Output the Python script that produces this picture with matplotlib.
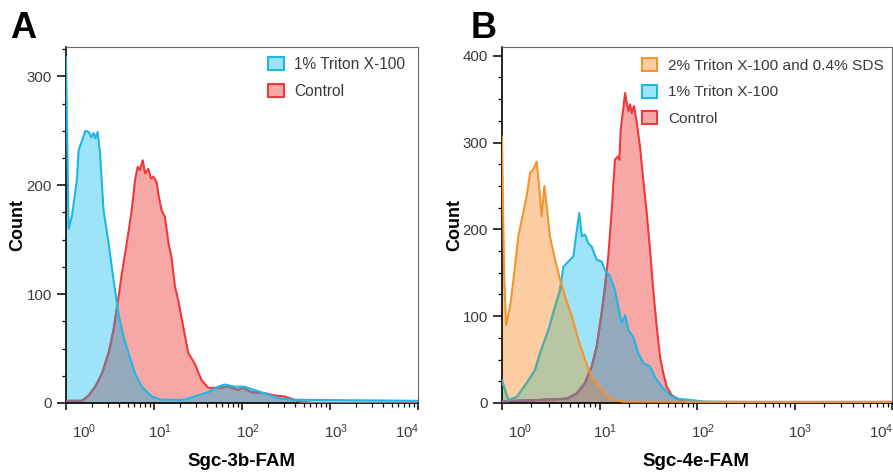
import numpy as np
import matplotlib
matplotlib.use('Agg')
import matplotlib.pyplot as plt
from matplotlib.patches import Patch
from matplotlib.ticker import LogLocator, NullFormatter, MultipleLocator, FixedLocator
import matplotlib.transforms as mtrans

plt.rcParams['font.family'] = ['Liberation Sans', 'DejaVu Sans']
plt.rcParams['mathtext.fontset'] = 'custom'
plt.rcParams['mathtext.rm'] = 'Liberation Sans'
plt.rcParams['mathtext.it'] = 'Liberation Sans:italic'

# ---------------- Panel A data (Sgc-3b-FAM) ----------------
a_triton_x = [1.00, 1.07, 1.17, 1.33, 1.39, 1.52, 1.66, 1.81, 1.94, 2.06, 2.15, 2.29,
              2.44, 2.67, 3.05, 3.47, 3.95, 4.50, 5.13, 6.10, 7.26, 9.42, 12.2, 22.3,
              28.9, 41.3, 53.6, 63.2, 82.0, 107, 138, 179, 256, 362, 10000]
a_triton_y = [318, 160, 172, 205, 232, 241, 250, 249, 244, 248, 243, 249,
              229, 177, 147, 113, 82, 61, 46, 27, 15, 6, 3, 3,
              6, 10, 15, 17, 15, 15, 12, 9, 4.5, 3, 2]
a_control_x = [1.00, 1.52, 1.81, 2.15, 2.56, 3.05, 3.47, 3.95, 4.31, 4.91, 5.58, 6.10,
               6.53, 6.93, 7.45, 7.91, 8.63, 9.25, 9.84, 10.7, 11.2, 12.2, 13.3, 14.6,
               15.8, 17.3, 18.9, 21.5, 24.5, 29.1, 34.7, 41.3, 53.6, 69.7, 90.4, 103,
               128, 181, 234, 305, 395, 471, 611, 10000]
a_control_y = [2, 2, 7, 15, 27, 46, 67, 97, 119, 147, 177, 205,
               217, 214, 223, 211, 215, 206, 208, 203, 192, 177, 171, 147,
               134, 107, 94, 70, 46, 36, 21, 14, 14, 15, 12, 14,
               10, 9, 7, 6, 3, 1, 0, 0]

# ---------------- Panel B data (Sgc-4e-FAM) ----------------
b_sds_x = [1.00, 1.05, 1.10, 1.21, 1.31, 1.47, 1.65, 1.79, 1.94, 2.09, 2.27, 2.42,
           2.55, 2.72, 2.88, 3.10, 3.50, 3.94, 4.43, 5.19, 6.07, 7.10, 8.32, 10.1,
           11.9, 13.9, 17.5, 10000]
b_sds_y = [307, 150, 90, 111, 142, 192, 219, 238, 265, 269, 278, 246,
           215, 250, 226, 192, 165, 142, 123, 100, 73, 50, 30, 19,
           9, 3.5, 1.5, 1.5]
b_triton_x = [1.00, 1.16, 1.42, 1.79, 2.18, 2.45, 2.99, 3.50, 3.94, 4.26, 4.80, 5.40,
              5.74, 6.21, 6.58, 7.10, 7.67, 8.32, 9.35, 10.5, 11.4, 12.8, 14.4, 15.6,
              16.9, 18.3, 19.8, 22.2, 25.0, 28.2, 33.0, 37.1, 43.4, 52.8, 61.9, 84.7,
              126, 443, 10000]
b_triton_y = [26, 3.5, 7, 23, 38, 57, 84, 111, 130, 157, 163, 169,
              192, 219, 192, 194, 184, 180, 165, 163, 153, 146, 130, 111,
              92, 101, 84, 76, 57, 46, 42, 30, 19, 9, 5, 3.5,
              1.5, 1, 0.5]
b_control_x = [1.00, 2.45, 4.61, 5.85, 7.10, 8.32, 9.35, 10.5, 11.4, 12.3, 13.3, 14.4,
               15.4, 16.0, 16.5, 17.5, 18.3, 19.0, 19.8, 20.6, 21.4, 22.6, 24.1, 26.0,
               28.1, 30.5, 33.0, 35.6, 38.6, 41.8, 45.2, 48.9, 55.0, 67.0, 84.7, 10000]
b_control_y = [2, 3.5, 5, 11, 23, 42, 65, 103, 134, 169, 219, 280,
               284, 280, 315, 338, 357, 346, 336, 344, 334, 342, 323, 296,
               257, 219, 176, 130, 88, 53, 34, 19, 9, 3.5, 1, 1]

x_tick_vals = [1, 10, 100, 1000, 10000]
x_tick_labels = [r'$\mathregular{10^{0}}$', r'$\mathregular{10^{1}}$', r'$\mathregular{10^{2}}$',
                 r'$\mathregular{10^{3}}$', r'$\mathregular{10^{4}}$']
a_yticks = [0, 100, 200, 300]
b_yticks = [0, 100, 200, 300, 400]

# colours
BLUE_FILL, BLUE_LINE = '#9ee4f8', '#1fb6e6'
RED_FILL, RED_LINE = '#f8a7a7', '#ec3a3c'
ORANGE_FILL, ORANGE_LINE = '#fccda2', '#f2952e'
BLUE_RED = '#95a9bc'
ORANGE_BLUE = '#b8c5a2'
TRIPLE = '#ab9b8e'
RED_MUTED = '#8c7088'
BLUE_MUTED = '#5cae98'
TXT = '#3a3a3a'

W, H = 893, 476
fig = plt.figure(figsize=(W / 100, H / 100), dpi=100)


def px_axes(l, r, t, b):
    return fig.add_axes([l / W, 1 - b / H, (r - l) / W, (b - t) / H])


def style_axes(ax, ymax, yticks):
    ax.set_xscale('log')
    ax.set_xlim(1, 10000)
    ax.set_ylim(0, ymax)
    ax.xaxis.set_major_locator(FixedLocator(x_tick_vals))
    ax.xaxis.set_minor_locator(LogLocator(base=10, subs=np.arange(2, 10)))
    ax.xaxis.set_major_formatter(NullFormatter())
    ax.xaxis.set_minor_formatter(NullFormatter())
    ax.yaxis.set_major_locator(FixedLocator(yticks))
    ax.yaxis.set_minor_locator(MultipleLocator(25))
    ax.tick_params(axis='y', which='major', direction='out', length=6.5, width=1.1,
                   labelsize=10.8, labelcolor=TXT, pad=3.5)
    ax.tick_params(axis='x', which='major', direction='out', length=5, width=1.1)
    ax.tick_params(which='minor', direction='out', length=3, width=0.9)
    for s in ('left', 'bottom'):
        ax.spines[s].set_color('black')
        ax.spines[s].set_linewidth(1.2)
    for s in ('top', 'right'):
        ax.spines[s].set_color('#666666')
        ax.spines[s].set_linewidth(0.8)
    offsets = [18, 6, 6, 6, -11]
    for v, lab, dx in zip(x_tick_vals, x_tick_labels, offsets):
        tr = mtrans.blended_transform_factory(ax.transData, ax.transAxes) + \
            mtrans.ScaledTranslation(dx / 100, -19 / 100, fig.dpi_scale_trans)
        ax.text(v, 0, lab, transform=tr, ha='center', va='top', fontsize=10.8,
                color=TXT, clip_on=False)


def fill(ax, x, y, color, clip=None, z=1):
    c = ax.fill_between(x, 0, y, color=color, lw=0, zorder=z)
    if clip is not None:
        c.set_clip_path(clip, ax.transData)
    return c


def line(ax, x, y, color, clip=None, z=3):
    ln, = ax.plot(x, y, color=color, lw=1.5, zorder=z, solid_joinstyle='round')
    if clip is not None:
        ln.set_clip_path(clip, ax.transData)
    return ln


# ---------------- Panel A ----------------
axA = px_axes(66, 418, 47, 403)
style_axes(axA, 327, a_yticks)
fc = fill(axA, a_control_x, a_control_y, RED_FILL)
ft = fill(axA, a_triton_x, a_triton_y, BLUE_FILL)
p_ctrl = fc.get_paths()[0]
p_trit = ft.get_paths()[0]
fill(axA, a_control_x, a_control_y, BLUE_RED, clip=p_trit, z=2)
line(axA, a_control_x, a_control_y, RED_LINE, z=3)
line(axA, a_control_x, a_control_y, RED_MUTED, clip=p_trit, z=3.1)
line(axA, a_triton_x, a_triton_y, BLUE_LINE, z=4)

handlesA = [Patch(facecolor=BLUE_FILL, edgecolor=BLUE_LINE, lw=1.5, label='1% Triton X-100'),
            Patch(facecolor=RED_FILL, edgecolor=RED_LINE, lw=1.5, label='Control')]
legA = fig.legend(handles=handlesA, loc='upper left', bbox_to_anchor=(268 / W, 1 - 57 / H),
                  frameon=False, fontsize=11.2, handlelength=1.0, handleheight=0.9,
                  handletextpad=0.7, labelspacing=0.78, borderpad=0, borderaxespad=0)
for t in legA.get_texts():
    t.set_color(TXT)

# ---------------- Panel B ----------------
axB = px_axes(502, 892, 47, 403)
style_axes(axB, 410, b_yticks)
fc = fill(axB, b_control_x, b_control_y, RED_FILL)
ft = fill(axB, b_triton_x, b_triton_y, BLUE_FILL)
fs = fill(axB, b_sds_x, b_sds_y, ORANGE_FILL)
p_ctrl = fc.get_paths()[0]
p_trit = ft.get_paths()[0]
p_sds = fs.get_paths()[0]
fill(axB, b_control_x, b_control_y, BLUE_RED, clip=p_trit, z=2)
fill(axB, b_triton_x, b_triton_y, ORANGE_BLUE, clip=p_sds, z=2.1)
fill(axB, b_control_x, b_control_y, TRIPLE, clip=p_sds, z=2.2)
line(axB, b_control_x, b_control_y, RED_LINE, z=3)
line(axB, b_control_x, b_control_y, RED_MUTED, clip=p_trit, z=3.1)
line(axB, b_control_x, b_control_y, RED_MUTED, clip=p_sds, z=3.2)
line(axB, b_triton_x, b_triton_y, BLUE_LINE, z=4)
line(axB, b_triton_x, b_triton_y, BLUE_MUTED, clip=p_sds, z=4.1)
line(axB, b_sds_x, b_sds_y, ORANGE_LINE, z=5)

handlesB = [Patch(facecolor=ORANGE_FILL, edgecolor=ORANGE_LINE, lw=1.5,
                  label='2% Triton X-100 and 0.4% SDS'),
            Patch(facecolor=BLUE_FILL, edgecolor=BLUE_LINE, lw=1.5, label='1% Triton X-100'),
            Patch(facecolor=RED_FILL, edgecolor=RED_LINE, lw=1.5, label='Control')]
legB = fig.legend(handles=handlesB, loc='upper left', bbox_to_anchor=(642 / W, 1 - 58 / H),
                  frameon=False, fontsize=11.1, handlelength=1.0, handleheight=0.9,
                  handletextpad=0.7, labelspacing=0.78, borderpad=0, borderaxespad=0)
for t in legB.get_texts():
    t.set_color(TXT)

# ---------------- labels ----------------
fig.text(10 / W, 1 - 38 / H, 'A', fontsize=26, fontweight='bold', ha='left', va='baseline')
fig.text(471 / W, 1 - 38 / H, 'B', fontsize=26, fontweight='bold', ha='left', va='baseline')
fig.text(18 / W, 1 - 225 / H, 'Count', fontsize=13, fontweight='bold', rotation=90,
         ha='center', va='center')
fig.text(455 / W, 1 - 225 / H, 'Count', fontsize=13, fontweight='bold', rotation=90,
         ha='center', va='center')
fig.text(241 / W, 1 - 466 / H, 'Sgc-3b-FAM', fontsize=13.5, fontweight='bold',
         ha='center', va='baseline')
fig.text(696 / W, 1 - 466 / H, 'Sgc-4e-FAM', fontsize=13.5, fontweight='bold',
         ha='center', va='baseline')

fig.savefig('out.png', dpi=100)
